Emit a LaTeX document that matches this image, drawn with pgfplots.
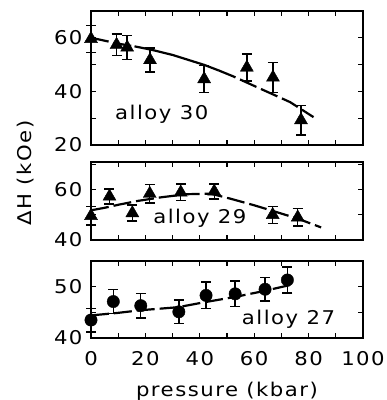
\documentclass[border=0pt]{standalone}
\usepackage{pgfplots}
\pgfplotsset{compat=1.18}
\usepackage{fontspec}
\setmainfont[LetterSpace=8,FakeStretch=1.12]{DejaVu Sans}
\begin{document}
\fontsize{19}{22}\selectfont
\begin{tikzpicture}
\pgfplotsset{
  panel/.style={
    scale only axis, width=272bp, anchor=north west,
    xmin=0, xmax=100, xtick={0,10,...,100},
    tick align=inside, major tick length=5bp, minor tick length=5bp,
    axis line style={line width=1.4bp}, every tick/.style={line width=1.3bp, black},
    /pgf/number format/assume math mode=true,
    ticklabel style={font=\fontsize{19}{22}\selectfont},
    yticklabel style={xshift=-2bp},
    xticklabel style={yshift=-7bp},
    clip=false,
  },
  curve/.style={line width=2.2bp, dash pattern=on 18bp off 5bp},
  pts/.style={only marks, black,
    error bars/.cd, y dir=both, y explicit,
    error bar style={line width=1.4bp},
    error mark options={rotate=90, mark size=5bp, line width=1.4bp}},
}
\path[use as bounding box] (0,0) rectangle (387bp,-400bp);
% alloy 30
\begin{axis}[panel, at={(91bp,-11bp)}, height=134bp,
  ymin=20, ymax=70, ytick={20,30,...,70}, yticklabels={20,,40,,60,},
  xticklabels={}]
\addplot[curve] coordinates {(0,60) (3.3,59.3) (10,57.8) (16,56.8)};
\addplot[line width=2.2bp] coordinates {(16,56.8) (22,55.6) (30,53.6) (41.6,49.9) (47,47.8)};
\addplot[curve] coordinates {(47,47.8) (52.3,45.6) (61.4,41.4) (73.2,36) (81.8,30.4)};
\addplot[mark=triangle*, mark size=7.5bp, pts] coordinates {
 (0,59.6) +- (0,5)
 (9.4,57.4) +- (0,4)
 (13.3,56.4) +- (0,4.5)
 (21.7,51.7) +- (0,4.5)
 (41.6,44.6) +- (0,5)
 (57.3,48.9) +- (0,5)
 (66.9,45.2) +- (0,5.5)
 (77.2,29.3) +- (0,5.5)
};
\node[anchor=base] at (axis cs:26,29.6) {alloy 30};
\end{axis}
% alloy 29
\begin{axis}[panel, at={(91bp,-162bp)}, height=78bp,
  ymin=40, ymax=71, ytick={40,50,60,70}, yticklabels={40,,60,},
  xticklabels={}]
\addplot[curve] coordinates {(0,51.8) (5,52.8) (10,54) (17,55.5) (26,57) (35,58.2) (44,58.4) (51,56.5) (60,53.8) (67,51.5) (76,48.5) (84.6,45)};
\addplot[mark=triangle*, mark size=7.5bp, pts] coordinates {
 (0,49.6) +- (0,3.7)
 (6.8,57.3) +- (0,3)
 (15.2,50.7) +- (0,3.2)
 (21.6,58.4) +- (0,3.7)
 (33,58.9) +- (0,3.3)
 (45.3,59.3) +- (0,3)
 (66.8,50) +- (0,3.4)
 (76,49) +- (0,3.5)
};
\node[anchor=base] at (axis cs:40,46.4) {alloy 29};
\end{axis}
% alloy 27
\begin{axis}[panel, at={(91bp,-261bp)}, height=77bp,
  ymin=40, ymax=55, ytick={40,45,50,55}, yticklabels={40,,50,},
  xticklabels={0,,20,,40,,60,,80,,100},
  xlabel={pressure (kbar)}, xlabel style={yshift=-3bp}]
\addplot[curve] coordinates {(0,44.4) (10,44.9) (18,45.4) (32,46) (42,47) (53,48) (64,49.2) (73,50.3)};
\addplot[mark=*, mark size=6.2bp, pts] coordinates {
 (0,43.5) +- (0,2.3)
 (8.2,47.1) +- (0,2.3)
 (18.3,46.3) +- (0,2.4)
 (32.3,45.1) +- (0,2.3)
 (42.3,48.3) +- (0,2.6)
 (53,48.6) +- (0,2.5)
 (64,49.5) +- (0,2.3)
 (72.2,51.3) +- (0,2.5)
};
\node[anchor=base] at (axis cs:72.6,42.7) {alloy 27};
\end{axis}
\node[rotate=90] at (26bp,-173bp) {ΔH (kOe)};
\end{tikzpicture}
\end{document}
